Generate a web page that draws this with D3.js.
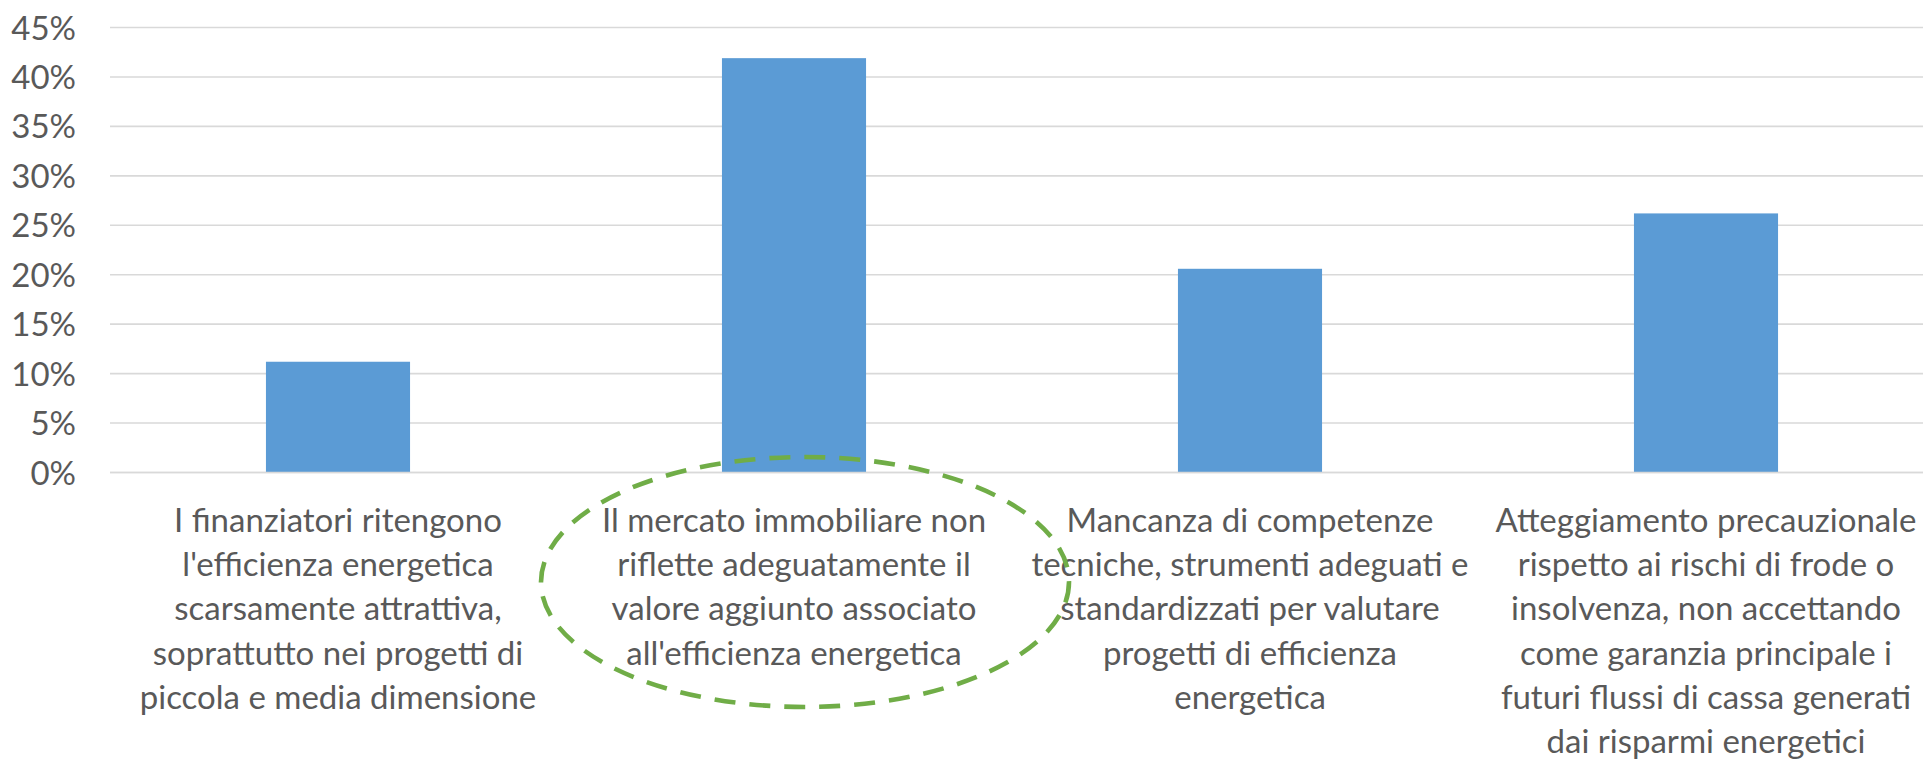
<!DOCTYPE html>
<html>
<head>
<meta charset="utf-8">
<script src="https://cdn.jsdelivr.net/npm/d3@7"></script>
<style>
  html, body { margin: 0; padding: 0; background: #ffffff; overflow: hidden; }
  svg { display: block; }
  text { font-family: Lato, "Open Sans", sans-serif; fill: #595959; }
</style>
</head>
<body>
<svg id="chart" width="1923" height="760"></svg>
<script>
// ---- data ----
const categories = [
  "I finanziatori ritengono\nl'efficienza energetica\nscarsamente attrattiva,\nsoprattutto nei progetti di\npiccola e media dimensione",
  "Il mercato immobiliare non\nriflette adeguatamente il\nvalore aggiunto associato\nall'efficienza energetica",
  "Mancanza di competenze\ntecniche, strumenti adeguati e\nstandardizzati per valutare\nprogetti di efficienza\nenergetica",
  "Atteggiamento precauzionale\nrispetto ai rischi di frode o\ninsolvenza, non accettando\ncome garanzia principale i\nfuturi flussi di cassa generati\ndai risparmi energetici"
];
const values = [0.112, 0.419, 0.206, 0.262];
const yTicks = [0, 0.05, 0.10, 0.15, 0.20, 0.25, 0.30, 0.35, 0.40, 0.45];
const highlighted = [categories[1]];

// ---- layout ----
const W = 1923, H = 760;
const left = 110, right = 1934;   // plot area continues past the right edge (clipped)
const yTop = 27.5, yBottom = 472.5;

const svg = d3.select("#chart");

const x = d3.scaleBand()
  .domain(categories)
  .range([left, right])
  .paddingInner(0.684)
  .paddingOuter(0.342);

const y = d3.scaleLinear()
  .domain([0, 0.45])
  .range([yBottom, yTop]);

// gridlines (behind bars)
svg.append("g")
  .selectAll("line")
  .data(yTicks)
  .join("line")
  .attr("x1", left)
  .attr("x2", W)
  .attr("y1", d => y(d))
  .attr("y2", d => y(d))
  .attr("stroke", "#d9d9d9")
  .attr("stroke-width", 1.6);

// y axis labels
const yAxis = d3.axisLeft(y)
  .tickValues(yTicks)
  .tickFormat(d3.format(".0%"))
  .tickSize(0)
  .tickPadding(0);
const yG = svg.append("g")
  .attr("transform", `translate(76,0)`)
  .call(yAxis);
yG.select(".domain").remove();
yG.selectAll("text")
  .attr("font-family", "Lato, sans-serif")
  .attr("font-size", 33)
  .attr("fill", "#595959")
  .attr("dy", "0.35em");

// bars
svg.append("g")
  .selectAll("rect")
  .data(values)
  .join("rect")
  .attr("x", (d, i) => x(categories[i]))
  .attr("width", x.bandwidth())
  .attr("y", d => y(d))
  .attr("height", d => y(0) - y(d))
  .attr("fill", "#5b9bd5");

// zero axis line on top
svg.append("line")
  .attr("x1", left).attr("x2", W)
  .attr("y1", y(0)).attr("y2", y(0))
  .attr("stroke", "#d9d9d9")
  .attr("stroke-width", 1.6);

// category labels
const lineH = 44.3;
const firstBaseline = 531.7;
const labels = svg.append("g")
  .selectAll("text")
  .data(categories)
  .join("text")
  .attr("text-anchor", "middle")
  .attr("font-size", 33)
  .attr("x", d => x(d) + x.bandwidth() / 2)
  .attr("y", firstBaseline);
labels.selectAll("tspan")
  .data(d => d.split("\n").map(t => ({ t, cx: x(d) + x.bandwidth() / 2 })))
  .join("tspan")
  .attr("x", d => d.cx)
  .attr("y", (d, i) => firstBaseline + i * lineH)
  .text(d => d.t);

// dashed annotation ellipse around the highlighted category label
svg.append("g")
  .selectAll("ellipse")
  .data(highlighted)
  .join("ellipse")
  .attr("cx", d => x(d) + x.bandwidth() / 2 + 11)
  .attr("cy", 582)
  .attr("rx", 264)
  .attr("ry", 125)
  .attr("fill", "none")
  .attr("stroke", "#70ad47")
  .attr("stroke-width", 4.6)
  .attr("stroke-dasharray", "21 14");
</script>
</body>
</html>
